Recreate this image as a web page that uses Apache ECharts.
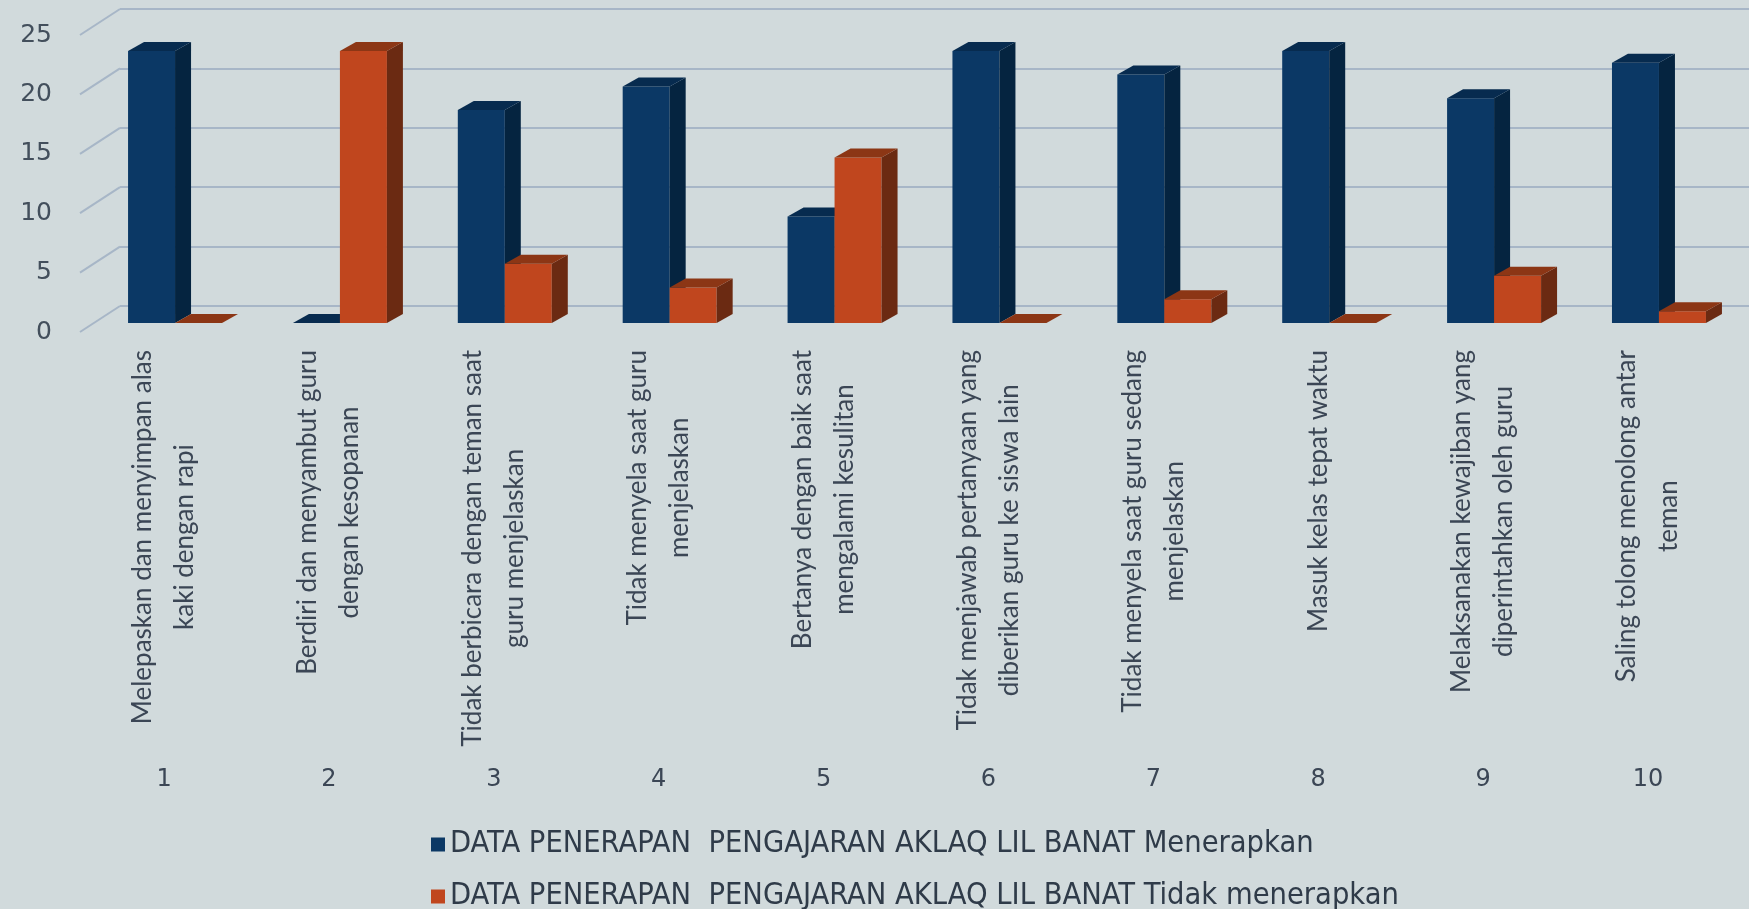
<!DOCTYPE html>
<html>
<head>
<meta charset="utf-8">
<script src="https://cdn.jsdelivr.net/npm/echarts@6/dist/echarts.min.js"></script>
<style>
  html, body { margin: 0; padding: 0; background: #d1dadc; }
  #chart { width: 1749px; height: 909px; }
</style>
</head>
<body>
<div id="chart"></div>
<script>
const categories = ["1", "2", "3", "4", "5", "6", "7", "8", "9", "10"];
const behaviours = [
  "Melepaskan dan menyimpan alas\nkaki dengan rapi",
  "Berdiri dan menyambut guru\ndengan kesopanan",
  "Tidak berbicara dengan teman saat\nguru menjelaskan",
  "Tidak menyela saat guru\nmenjelaskan",
  "Bertanya dengan baik saat\nmengalami kesulitan",
  "Tidak menjawab pertanyaan yang\ndiberikan guru ke siswa lain",
  "Tidak menyela saat guru sedang\nmenjelaskan",
  "Masuk kelas tepat waktu",
  "Melaksanakan kewajiban yang\ndiperintahkan oleh guru",
  "Saling tolong menolong antar\nteman",
];
const menerapkan = [23, 0, 18, 20, 9, 23, 21, 23, 19, 22];
const tidakMenerapkan = [0, 23, 5, 3, 14, 0, 2, 0, 4, 1];
const yTicks = [0, 5, 10, 15, 20, 25];
const seriesNames = [
  "DATA PENERAPAN  PENGAJARAN AKLAQ LIL BANAT Menerapkan",
  "DATA PENERAPAN  PENGAJARAN AKLAQ LIL BANAT Tidak menerapkan",
];

const chart = echarts.init(document.getElementById("chart"));

const BAR_RATIO = 0.285;
const DEPTH_X = 16;
const DEPTH_Y = -9;
const gridColor = "#a7b6c7";
const textColor = "#3b4655";

// 3D-looking column: front face + side face + top face
function makeBar(slot, front, side, top) {
  return function (params, api) {
    const cat = api.value(0);
    const val = api.value(1);
    const base = api.coord([cat, 0]);
    const peak = api.coord([cat, val]);
    const w = api.size([1, 0])[0] * BAR_RATIO;
    const x0 = slot === 0 ? base[0] - w : base[0];
    const x1 = x0 + w;
    const y0 = base[1];
    const y1 = peak[1];
    const children = [];
    if (y0 - y1 > 0.5) {
      children.push({
        type: "rect",
        shape: { x: x0, y: y1, width: w, height: y0 - y1 },
        style: { fill: front },
      });
      children.push({
        type: "polygon",
        shape: { points: [[x1, y0], [x1 + DEPTH_X, y0 + DEPTH_Y], [x1 + DEPTH_X, y1 + DEPTH_Y], [x1, y1]] },
        style: { fill: side },
      });
    }
    children.push({
      type: "polygon",
      shape: { points: [[x0, y1], [x1, y1], [x1 + DEPTH_X, y1 + DEPTH_Y], [x0 + DEPTH_X, y1 + DEPTH_Y]] },
      style: { fill: top },
    });
    return { type: "group", children: children };
  };
}

const legendText = {
  fontFamily: "Liberation Sans Narrow, DejaVu Sans Condensed, sans-serif",
  fontSize: 30.5,
  color: "#2f3b49",
  verticalAlign: "middle",
};

const option = {
  backgroundColor: "#d1dadc",
  animation: false,
  grid: [
    { left: 92.6, right: 7.6, top: 27.3, bottom: 586 },
    { left: 120, right: 0, top: 9, bottom: 603 },
    { left: 80, width: 10, top: 35, bottom: 577 },
    { left: 81.6, right: 18.6, top: 27.3, bottom: 586 },
  ],
  xAxis: [
    { gridIndex: 0, type: "category", data: categories, show: false },
    { gridIndex: 1, type: "value", min: 0, max: 1, show: false },
    { gridIndex: 2, type: "value", min: 0, max: 1, show: false },
    {
      gridIndex: 3,
      type: "category",
      data: categories,
      axisLine: { show: false },
      axisTick: { show: false },
      axisLabel: {
        interval: 0,
        rotate: 90,
        margin: 27,
        formatter: function (v, i) {
          return behaviours[i].split("\n").map(function (l) { return "{c|" + l + "}"; }).join("\n");
        },
        rich: {
          c: { align: "center", fontFamily: "Lato", fontSize: 26, lineHeight: 42, color: textColor },
        },
      },
    },
    {
      gridIndex: 3,
      type: "category",
      data: categories,
      position: "bottom",
      offset: 445,
      axisLine: { show: false },
      axisTick: { show: false },
      axisLabel: { interval: 0, margin: 0, fontFamily: "DejaVu Sans", fontSize: 24, color: textColor },
    },
  ],
  yAxis: [
    { gridIndex: 0, type: "value", min: 0, max: 25, interval: 5, show: false },
    {
      gridIndex: 1,
      type: "value",
      min: 0,
      max: 25,
      interval: 5,
      axisLine: { show: false },
      axisTick: { show: false },
      axisLabel: { show: false },
      splitLine: { show: true, lineStyle: { color: gridColor, width: 2 } },
    },
    {
      gridIndex: 2,
      type: "value",
      min: 0,
      max: 25,
      interval: 5,
      axisLine: { show: false },
      axisTick: { show: false },
      splitLine: { show: false },
      axisLabel: { margin: 28, fontFamily: "DejaVu Sans", fontSize: 25, color: "#434f5c" },
    },
    { gridIndex: 3, type: "value", min: 0, max: 25, show: false },
  ],
  legend: [
    {
      left: 431,
      top: 829,
      itemWidth: 14,
      itemHeight: 14,
      icon: "rect",
      padding: 0,
      textStyle: legendText,
      data: [seriesNames[0]],
      selectedMode: false,
    },
    {
      left: 431,
      top: 881,
      itemWidth: 14,
      itemHeight: 14,
      icon: "rect",
      padding: 0,
      textStyle: legendText,
      data: [seriesNames[1]],
      selectedMode: false,
    },
  ],
  series: [
    {
      type: "custom",
      name: "wall",
      xAxisIndex: 1,
      yAxisIndex: 1,
      silent: true,
      clip: false,
      data: yTicks.map(function (v) { return [0, v]; }),
      renderItem: function (params, api) {
        const p = api.coord([0, api.value(1)]);
        return {
          type: "line",
          shape: { x1: p[0] - 40, y1: p[1] + 26, x2: p[0], y2: p[1] },
          style: { stroke: gridColor, lineWidth: 2 },
        };
      },
    },
    {
      type: "custom",
      name: seriesNames[0],
      xAxisIndex: 0,
      yAxisIndex: 0,
      clip: false,
      itemStyle: { color: "#0b3865" },
      data: menerapkan.map(function (v, i) { return [i, v]; }),
      renderItem: makeBar(0, "#0b3865", "#052440", "#072b4f"),
    },
    {
      type: "custom",
      name: seriesNames[1],
      xAxisIndex: 0,
      yAxisIndex: 0,
      clip: false,
      itemStyle: { color: "#c0461e" },
      data: tidakMenerapkan.map(function (v, i) { return [i, v]; }),
      renderItem: makeBar(1, "#c0461e", "#6b2a12", "#8c3615"),
    },
  ],
};

chart.setOption(option);
</script>
</body>
</html>
